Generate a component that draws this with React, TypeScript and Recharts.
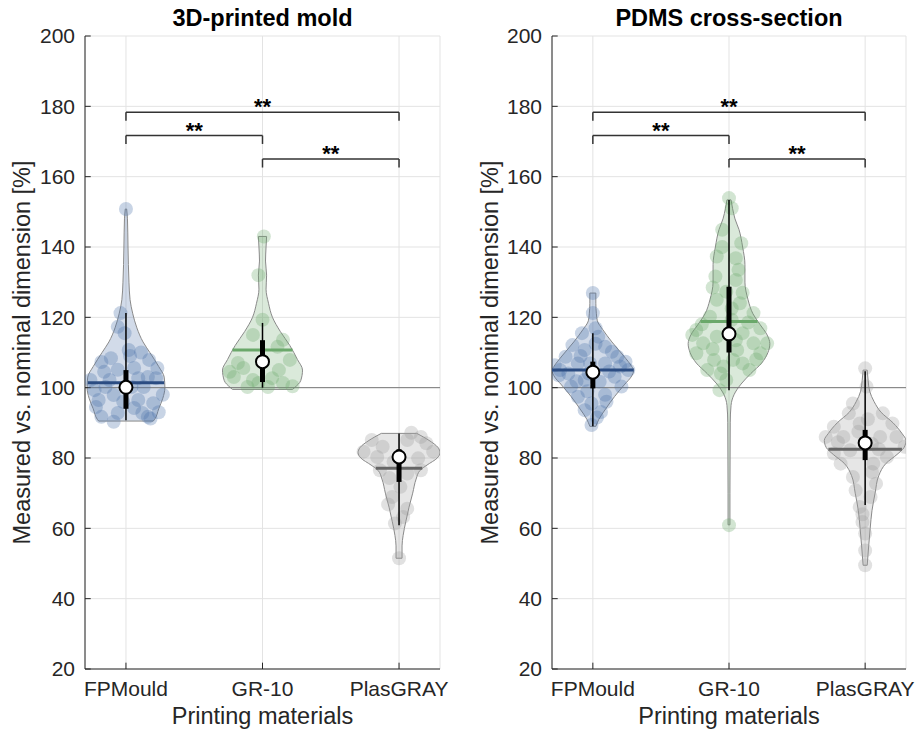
import React from 'react';
import {
  ComposedChart,
  Area,
  Scatter,
  XAxis,
  YAxis,
  CartesianGrid,
  ReferenceLine,
} from 'recharts';

const categories = ['FPMould', 'GR-10', 'PlasGRAY'];
const yTicks = [20, 40, 60, 80, 100, 120, 140, 160, 180, 200];

// violin outlines: [value, half width in category units]
const moldFpOutline = [[90.5, 0.2], [91, 0.21], [94, 0.24], [97, 0.27], [100, 0.285], [103, 0.28], [106, 0.24], [110, 0.175], [113, 0.125], [117, 0.08], [121, 0.05], [125, 0.03], [130, 0.022], [140, 0.015], [148, 0.011], [150.8, 0.005]];
const moldGrOutline = [[99.5, 0.22], [100, 0.235], [102, 0.28], [105, 0.293], [108, 0.256], [112, 0.2], [116, 0.13], [120, 0.073], [124, 0.044], [128, 0.026], [132, 0.03], [136, 0.022], [140, 0.026], [143, 0.03]];
const moldPlasOutline = [[51.5, 0.022], [55, 0.022], [58, 0.03], [62, 0.05], [66, 0.073], [70, 0.1], [74, 0.125], [76.5, 0.154], [78, 0.205], [80, 0.28], [81.5, 0.3], [83, 0.285], [85, 0.22], [87, 0.13]];
const pdmsFpOutline = [[89, 0.022], [91, 0.044], [94, 0.095], [97.5, 0.16], [101, 0.235], [103, 0.28], [105, 0.3], [106, 0.286], [109, 0.227], [113, 0.14], [116.5, 0.073], [119, 0.033], [121, 0.026], [124, 0.022], [126.9, 0.022]];
const pdmsGrOutline = [[61, 0.007], [70, 0.007], [90, 0.009], [95, 0.015], [98, 0.037], [101, 0.088], [104, 0.16], [107, 0.24], [110, 0.286], [112.5, 0.3], [115, 0.28], [118, 0.227], [121, 0.176], [125, 0.14], [130, 0.117], [135, 0.117], [140, 0.1], [145, 0.073], [148, 0.044], [151, 0.026], [153.4, 0.015]];
const pdmsPlasOutline = [[49.5, 0.015], [55, 0.026], [60, 0.037], [65, 0.05], [70, 0.073], [75, 0.1], [78.5, 0.154], [81, 0.234], [83, 0.286], [85, 0.3], [87, 0.27], [90, 0.205], [93, 0.117], [96, 0.066], [99, 0.033], [102, 0.022], [105, 0.015]];

// individual measurements: [jitter offset, value]
const moldFpPoints = [[-0.04, 121.2], [-0.18, 107.3], [-0.11, 108.4], [0.02, 110.7], [0.11, 110], [0.17, 107.9], [0.23, 105.6], [-0.16, 104.5], [-0.06, 105.1], [0.06, 105.6], [-0.23, 99.3], [-0.15, 100.2], [-0.09, 97.9], [0.13, 100.2], [0.22, 102.7], [0.27, 98], [-0.2, 96.5], [-0.22, 94.5], [-0.18, 91.7], [-0.06, 92.8], [0.06, 94.2], [0.12, 92.8], [0.16, 91.7], [0.24, 93], [0.2, 95.6], [0.09, 96.5], [-0.02, 96], [-0.26, 102.2], [0.04, 100.2], [-0.12, 102.2], [0.09, 102.7], [0.16, 103], [-0.01, 115.5], [-0.06, 117.3], [-0.09, 90.3], [0, 150.8], [0.18, 91.2], [0.03, 109]];
const moldGrPoints = [[0.01, 143], [-0.03, 132], [0, 119.3], [-0.07, 115], [0.15, 113.6], [0.11, 111.6], [-0.18, 107], [-0.14, 105.6], [0.12, 105], [0.2, 107.9], [-0.21, 103], [-0.07, 102.2], [0.07, 102.7], [0.15, 101.3], [-0.03, 101.3], [0.04, 100.2], [-0.11, 100.2], [-0.24, 104.5], [0.22, 100.4]];
const moldPlasPoints = [[0.09, 87.2], [0.16, 86], [-0.2, 85.1], [0.06, 85.1], [0.2, 84.2], [-0.12, 83.2], [0.25, 81.8], [-0.26, 81.8], [-0.16, 80.3], [0.14, 79.9], [-0.04, 78.9], [0.06, 75.6], [-0.07, 74.3], [0.01, 71.8], [-0.05, 68.9], [0.06, 65.6], [0.03, 63.2], [-0.03, 61.4], [0, 51.5], [0.16, 76.5], [-0.14, 76.5], [-0.08, 66.8]];
const pdmsFpPoints = [[0, 126.9], [0, 121.2], [-0.08, 115.5], [0.04, 114.5], [-0.15, 112.1], [0.09, 111.6], [-0.06, 110.7], [-0.2, 108.8], [0.18, 108.8], [-0.28, 106.4], [0.24, 107.4], [-0.11, 106.9], [0.09, 106.9], [-0.18, 104], [0.16, 103.1], [0.26, 105], [-0.06, 102.2], [0.05, 101.7], [-0.16, 100.3], [0.21, 100.3], [-0.11, 97.4], [0.09, 98], [-0.01, 95.5], [-0.06, 93.6], [0.06, 93.1], [-0.01, 89.4], [-0.24, 105], [0.14, 110.2], [0.02, 116.9], [-0.02, 106.9], [-0.09, 109], [0.12, 104.6], [-0.25, 103.5], [-0.04, 99], [0.1, 96], [-0.12, 101.8], [0.2, 106], [0.02, 112.5], [-0.03, 104], [0.03, 91.5]];
const pdmsGrPoints = [[0, 153.9], [0.02, 151], [-0.05, 144.9], [0.09, 141.1], [-0.09, 137.3], [0.05, 136.8], [-0.1, 131.6], [0.05, 130.6], [-0.02, 127.3], [-0.09, 125], [0.08, 124], [0.18, 121.2], [-0.14, 120.2], [0.02, 119.3], [-0.24, 116.4], [0.23, 116.9], [0.1, 115.5], [-0.09, 114.5], [0.28, 112.6], [-0.27, 115], [-0.19, 112.6], [0.18, 112.6], [0.06, 110.7], [-0.24, 109.8], [0.23, 109.8], [-0.11, 107.9], [0.1, 106.9], [-0.16, 105], [0.15, 105], [-0.02, 102.2], [-0.07, 99.3], [0, 60.9], [-0.04, 106], [0.03, 107.9], [-0.05, 140], [0.07, 133.5], [-0.12, 128.5], [0.1, 127], [0.02, 122.5], [-0.2, 118], [0.14, 118.5], [0.05, 113.5], [-0.12, 111], [0.2, 108], [-0.06, 104]];
const pdmsPlasPoints = [[0, 105.5], [0.01, 100.3], [-0.09, 95.5], [-0.12, 92.7], [0.13, 92.7], [-0.23, 88.9], [0.2, 89.8], [-0.04, 89.8], [-0.29, 86], [0.29, 83.2], [-0.16, 86], [0.11, 86], [0.23, 86], [-0.23, 81.3], [-0.11, 82.2], [0.16, 80.3], [-0.18, 78.4], [0.06, 78.4], [-0.09, 74.6], [0.08, 72.7], [-0.07, 70.8], [0.04, 68.9], [-0.04, 66.1], [-0.02, 61.8], [0, 58.5], [0, 53.7], [0, 49.5], [0.05, 84], [-0.05, 87.5], [0.1, 82.5], [-0.2, 84.5], [0.02, 91], [0.05, 76], [-0.02, 64]];

// summary per group: colored line (value, half width), white marker, whiskers, box
const moldStats = [
  { line: 101.4, lineHalf: 0.28, marker: 100.1, lo: 90.7, hi: 121.2, q1: 94, q3: 105 },
  { line: 110.7, lineHalf: 0.22, marker: 107.4, lo: 100, hi: 118.4, q1: 101.6, q3: 113.5 },
  { line: 77.1, lineHalf: 0.17, marker: 80.3, lo: 60.9, hi: 87, q1: 73.2, q3: 82.5 },
];
const pdmsStats = [
  { line: 105, lineHalf: 0.3, marker: 104.4, lo: 89, hi: 115.5, q1: 99.8, q3: 107.4 },
  { line: 118.8, lineHalf: 0.21, marker: 115.3, lo: 99.3, hi: 153.4, q1: 110, q3: 128.7 },
  { line: 82.5, lineHalf: 0.27, marker: 84.3, lo: 66.6, hi: 104.7, q1: 79.4, q3: 88 },
];

const brackets = [
  { from: 1, to: 3, y: 178.3, label: '**' },
  { from: 1, to: 2, y: 171.7, label: '**' },
  { from: 2, to: 3, y: 165, label: '**' },
];
const bracketDrop = 2.4;

const palette = [
  { fill: '#4a6fa8', line: '#2b4c82' },
  { fill: '#6aa86a', line: '#6aa86a' },
  { fill: '#9a9a9a', line: '#666666' },
];

const font = "'Liberation Sans', Arial, Helvetica, sans-serif";
const ink = '#262626';

interface PanelProps {
  title: string;
  outlines: number[][][];
  points: number[][][];
  stats: typeof moldStats;
  left: number;
  width: number;
  marginRight: number;
  labelOffset: number;
}

const Panel: React.FC<PanelProps> = ({ title, outlines, points, stats, left, width, marginRight, labelOffset }) => {
  const violins = outlines.map((o, i) => (
    <Area
      key={`v${i}`}
      data={o.map(([v, h]) => ({ v, band: [i + 1 - h, i + 1 + h] }))}
      dataKey="band"
      type="monotone"
      fill={palette[i].fill}
      fillOpacity={0.25}
      stroke="#8a8a8a"
      strokeWidth={1}
      dot={false}
      activeDot={false}
      isAnimationActive={false}
    />
  ));
  const caps = outlines.flatMap((o, i) =>
    [o[0], o[o.length - 1]].map(([v, h], k) => (
      <ReferenceLine key={`c${i}${k}`} segment={[{ x: i + 1 - h, y: v }, { x: i + 1 + h, y: v }]} stroke="#8a8a8a" strokeWidth={1} />
    ))
  );
  const dots = points.map((p, i) => (
    <Scatter
      key={`p${i}`}
      data={p.map(([dx, v]) => ({ x: i + 1 + dx, v }))}
      isAnimationActive={false}
      shape={(s: any) => <circle cx={s.cx} cy={s.cy} r={7} fill={palette[i].fill} fillOpacity={0.3} />}
    />
  ));
  const summary = stats.flatMap((s, i) => [
    <ReferenceLine key={`m${i}`} zIndex={650} segment={[{ x: i + 1 - s.lineHalf, y: s.line }, { x: i + 1 + s.lineHalf, y: s.line }]} stroke={palette[i].line} strokeWidth={3} />,
    <ReferenceLine key={`w${i}`} zIndex={650} segment={[{ x: i + 1, y: s.lo }, { x: i + 1, y: s.hi }]} stroke="#000" strokeWidth={1.5} />,
    <ReferenceLine key={`b${i}`} zIndex={650} segment={[{ x: i + 1, y: s.q1 }, { x: i + 1, y: s.q3 }]} stroke="#000" strokeWidth={5} />,
  ]);
  const sig = brackets.flatMap((b, i) => [
    <ReferenceLine
      key={`h${i}`}
      segment={[{ x: b.from, y: b.y }, { x: b.to, y: b.y }]}
      stroke="#333"
      strokeWidth={1.5}
      label={{ value: b.label, position: 'top', offset: -2, fontSize: 22, fontWeight: 'bold', fill: '#000', fontFamily: font }}
    />,
    <ReferenceLine key={`l${i}`} segment={[{ x: b.from, y: b.y }, { x: b.from, y: b.y - bracketDrop }]} stroke="#333" strokeWidth={1.5} />,
    <ReferenceLine key={`r${i}`} segment={[{ x: b.to, y: b.y }, { x: b.to, y: b.y - bracketDrop }]} stroke="#333" strokeWidth={1.5} />,
  ]);
  const innerTicks = [
    ...yTicks.map((t) => (
      <ReferenceLine key={`yt${t}`} segment={[{ x: 0.7, y: t }, { x: 0.742, y: t }]} stroke={ink} strokeWidth={1} />
    )),
    ...categories.map((c, i) => (
      <ReferenceLine key={`xt${c}`} segment={[{ x: i + 1, y: 20 }, { x: i + 1, y: 21.8 }]} stroke={ink} strokeWidth={1} />
    )),
  ];

  return (
    <div style={{ position: 'absolute', left, top: 0, width, height: 733 }}>
      <div
        style={{
          position: 'absolute',
          left: 85,
          width: width - 85 - marginRight,
          top: 6,
          textAlign: 'center',
          fontFamily: font,
          fontWeight: 'bold',
          fontSize: 23.5,
          lineHeight: '24px',
          color: '#000',
        }}
      >
        {title}
      </div>
      <ComposedChart width={width} height={733} layout="vertical" margin={{ top: 36, right: marginRight, bottom: 4, left: 0 }}>
        <CartesianGrid stroke="#e3e3e3" />
        <XAxis
          type="number"
          dataKey="x"
          domain={[0.7, 3.3]}
          ticks={[1, 2, 3]}
          allowDataOverflow
          tickFormatter={(t: number) => categories[t - 1]}
          tick={{ fontSize: 21, fill: ink, fontFamily: font }}
          tickLine={false}
          tickSize={6}
          tickMargin={6}
          axisLine={{ stroke: ink }}
          height={60}
          label={{ value: 'Printing materials', position: 'insideBottom', offset: 5, style: { fontSize: 23.5, fill: ink, fontFamily: font } }}
        />
        <YAxis
          type="number"
          dataKey="v"
          domain={[20, 200]}
          ticks={yTicks}
          reversed
          allowDataOverflow
          width={85}
          tick={{ fontSize: 21, fill: ink, fontFamily: font }}
          tickLine={false}
          tickSize={6}
          tickMargin={4}
          axisLine={{ stroke: ink }}
          label={{
            value: 'Measured vs. nominal dimension [%]',
            angle: -90,
            position: 'insideLeft',
            offset: labelOffset,
            style: { textAnchor: 'middle', fontSize: 23.5, fill: ink, fontFamily: font },
          }}
        />
        {violins}
        {caps}
        <ReferenceLine y={100} stroke="#7a7a7a" strokeWidth={1} />
        {dots}
        {summary}
        <Scatter
          data={stats.map((s, i) => ({ x: i + 1, v: s.marker }))}
          zIndex={700}
          isAnimationActive={false}
          shape={(s: any) => <circle cx={s.cx} cy={s.cy} r={6.5} fill="#fff" stroke="#000" strokeWidth={2} />}
        />
        {sig}
        {innerTicks}
      </ComposedChart>
    </div>
  );
};

export default function App() {
  return (
    <div style={{ position: 'absolute', left: 0, top: 0, width: 917, height: 733, background: '#fff', overflow: 'hidden' }}>
      <Panel
        title="3D-printed mold"
        outlines={[moldFpOutline, moldGrOutline, moldPlasOutline]}
        points={[moldFpPoints, moldGrPoints, moldPlasPoints]}
        stats={moldStats}
        left={0}
        width={460}
        marginRight={20}
        labelOffset={22}
      />
      <Panel
        title="PDMS cross-section"
        outlines={[pdmsFpOutline, pdmsGrOutline, pdmsPlasOutline]}
        points={[pdmsFpPoints, pdmsGrPoints, pdmsPlasPoints]}
        stats={pdmsStats}
        left={467}
        width={450}
        marginRight={11}
        labelOffset={23}
      />
    </div>
  );
}
